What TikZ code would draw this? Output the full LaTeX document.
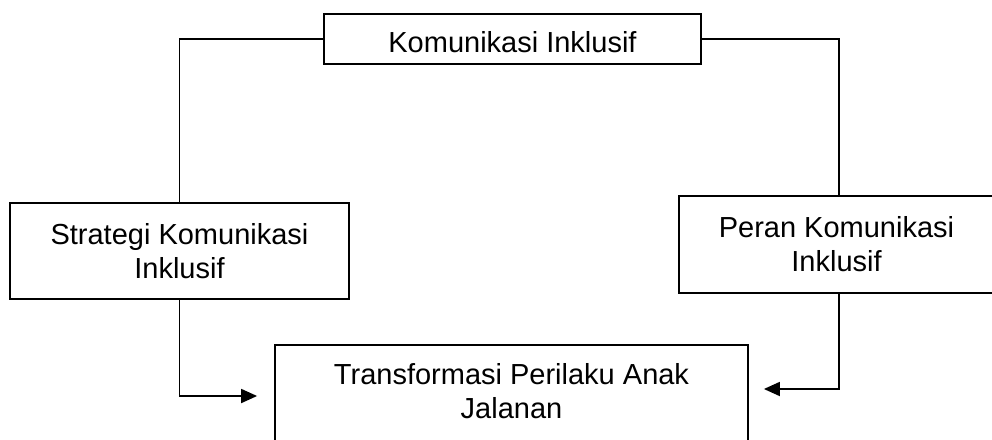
\documentclass[tikz,border=0pt]{standalone}
\usepackage{fontspec}
\setmainfont{Liberation Sans}
\usetikzlibrary{arrows.meta}
\begin{document}
\begin{tikzpicture}[x=1pt,y=-1pt,
  box/.style={draw=black, line width=1.8pt, inner sep=0pt, align=center,
    font=\fontsize{29}{34}\selectfont},
  txt/.style={inner sep=0pt, align=center, font=\fontsize{29}{34}\selectfont},
  conn/.style={draw=black, line width=1.8pt},
  arr/.style={conn, -{Triangle[length=16pt,width=14pt]}}]
\useasboundingbox (0,0) rectangle (992,439);
\clip (0,0) rectangle (992,439);
\node[box, minimum width=377pt, minimum height=50pt, text height=27pt, text depth=0pt] (kom) at (512.5,39) {Komunikasi Inklusif};
\node[box, minimum width=339pt, minimum height=96pt] (strat) at (179.5,251) {Strategi Komunikasi\\Inklusif};
\node[box, minimum width=320pt, minimum height=97pt] (peran) at (839,244.5) {\hspace*{-5pt}Peran Komunikasi\\\hspace*{-5pt}Inklusif};
\node[box, minimum width=473pt, minimum height=140pt, anchor=north] (trans) at (511.5,344) {};
\node[txt, anchor=north] (transtxt) at (511.5,363) {Transformasi Perilaku Anak\\Jalanan};
\draw[conn] (kom.west) -| (strat.north);
\draw[conn] (kom.east) -| (peran.north);
\draw[arr] (strat.south) |- ([xshift=-17pt,yshift=-52pt]trans.north west);
\draw[arr] (peran.south) |- ([xshift=15pt,yshift=-45pt]trans.north east);
\end{tikzpicture}
\end{document}
